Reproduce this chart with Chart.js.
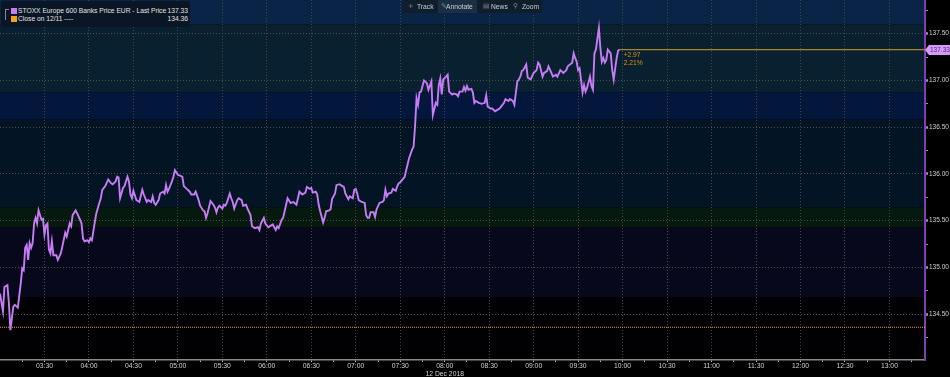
<!DOCTYPE html>
<html>
<head>
<meta charset="utf-8">
<script src="https://cdn.jsdelivr.net/npm/chart.js@4.4.0/dist/chart.umd.min.js"></script>
<style>
  html, body { margin: 0; padding: 0; background: #000; }
  #wrap { position: relative; width: 950px; height: 377px; overflow: hidden; }
  #chart { display: block; }
  #legend {
    position: absolute; left: 1px; top: 1px; width: 189px; height: 26px;
    background: #0a1626; border-radius: 3px;
    font: 6.7px "Liberation Sans", Arial, sans-serif; color: #e4e4e4;
  }
  #legend .row { position: absolute; left: 17px; right: 2px; height: 8px; line-height: 8px; white-space: nowrap; }
  #legend .val { position: absolute; right: 0; top: 0; }
  #legend .sw { position: absolute; left: 10px; width: 6px; height: 6px; }
  #legend .tree { position: absolute; left: 4px; top: 8px; width: 3px; height: 10px; border-left: 1px solid #8a8a8a; border-top: 1px solid #8a8a8a; }
  #toolbar {
    position: absolute; left: 403px; top: 0; width: 139px; height: 13px;
    background: #101d2b; font: 6.7px "Liberation Sans", Arial, sans-serif; color: #c8d0d8;
  }
  #toolbar span { position: absolute; top: 0; height: 13px; line-height: 13px; white-space: nowrap; }
  #toolbar .on { background: #1c2f42; }
  #toolbar .ic { color: #7d8a98; font-family: "DejaVu Sans", sans-serif; }
</style>
</head>
<body>
<div id="wrap">
  <canvas id="chart" width="950" height="377"></canvas>
  <div id="legend">
    <div class="tree"></div>
    <div class="sw" id="sw1" style="top:7px;background:#c67cf4"></div>
    <div class="sw" id="sw2" style="top:14.5px;background:#f5a21b"></div>
    <div class="row" style="top:6px"><span id="name1"></span><span class="val" id="val1"></span></div>
    <div class="row" style="top:14px"><span id="name2"></span><span class="val" id="val2"></span></div>
  </div>
  <div id="toolbar">
    <span class="ic" style="left:5px">+</span><span style="left:14px">Track</span>
    <span class="on" style="left:35px;width:39px"></span>
    <span class="ic" style="left:38px">✎</span><span style="left:43px">Annotate</span>
    <span class="ic" style="left:80px">▤</span><span style="left:88px">News</span>
    <span class="ic" style="left:110px">⚲</span><span style="left:119px">Zoom</span>
  </div>
</div>
<script>
// intraday prices
const times = [
  '03:00','03:02','03:03','03:05','03:06','03:07','03:09','03:10','03:12','03:14','03:15','03:16','03:17','03:18','03:19','03:20',
  '03:21','03:22','03:23','03:24','03:25','03:26','03:28','03:29','03:30','03:31','03:32','03:33','03:34','03:35','03:36','03:38',
  '03:39','03:41','03:42','03:44','03:45','03:47','03:48','03:49','03:51','03:52','03:54','03:55','03:56','03:57','03:59','04:00',
  '04:01','04:02','04:04','04:05','04:07','04:08','04:09','04:11','04:13','04:15','04:16','04:18','04:19','04:20','04:21','04:23',
  '04:24','04:26','04:27','04:28','04:29','04:30','04:32','04:33','04:34','04:36','04:37','04:39','04:40','04:42','04:43','04:44',
  '04:45','04:47','04:48','04:50','04:51','04:52','04:53','04:54','04:56','04:57','04:58','05:00','05:03','05:04','05:06','05:08',
  '05:09','05:11','05:12','05:14','05:15','05:17','05:18','05:19','05:20','05:22','05:24','05:25','05:26','05:27','05:28','05:30',
  '05:31','05:32','05:33','05:35','05:36','05:37','05:38','05:40','05:41','05:43','05:44','05:46','05:47','05:49','05:50','05:52',
  '05:54','05:55','05:56','05:58','05:59','06:01','06:03','06:04','06:06','06:07','06:08','06:10','06:11','06:13','06:14','06:16',
  '06:18','06:20','06:22','06:24','06:26','06:27','06:29','06:30','06:31','06:33','06:34','06:35','06:36','06:38','06:39','06:40',
  '06:42','06:43','06:44','06:46','06:47','06:49','06:51','06:52','06:53','06:55','06:56','06:58','06:59','07:00','07:01','07:02',
  '07:04','07:06','07:07','07:08','07:09','07:10','07:12','07:13','07:14','07:16','07:18','07:19','07:20','07:21','07:22','07:24',
  '07:25','07:27','07:28','07:29','07:30','07:32','07:33','07:34','07:36','07:38','07:39','07:40','07:41','07:42','07:43','07:44',
  '07:46','07:48','07:49','07:51','07:52','07:54','07:55','07:56','07:57','07:58','07:59','08:01','08:02','08:03','08:05','08:06',
  '08:08','08:09','08:10','08:12','08:13','08:14','08:15','08:16','08:18','08:19','08:20','08:21','08:23','08:25','08:27','08:28',
  '08:29','08:31','08:32','08:34','08:36','08:37','08:38','08:40','08:41','08:43','08:44','08:46','08:47','08:48','08:49','08:50',
  '08:51','08:52','08:53','08:55','08:56','08:58','09:00','09:02','09:03','09:04','09:06','09:07','09:09','09:10','09:12','09:13',
  '09:15','09:16','09:18','09:20','09:22','09:23','09:26','09:27','09:28','09:29','09:30','09:31','09:33','09:34','09:35','09:36',
  '09:38','09:39','09:40','09:41','09:42','09:44','09:45','09:46','09:47','09:48','09:49','09:50','09:52','09:53','09:54','09:55',
  '09:56','09:57','09:58'
];
const prices = [
  134.72,134.53,134.79,134.81,134.62,134.33,134.58,134.60,134.57,134.83,134.99,134.97,135.21,135.24,135.08,135.26,
  135.21,135.26,135.47,135.53,135.47,135.61,135.51,135.52,135.35,135.45,135.47,135.19,135.15,135.28,135.13,135.13,
  135.08,135.15,135.22,135.37,135.33,135.47,135.44,135.56,135.61,135.58,135.51,135.47,135.31,135.28,135.29,135.27,
  135.31,135.29,135.49,135.58,135.69,135.74,135.83,135.87,135.94,135.90,135.89,135.92,135.97,135.96,135.74,135.85,
  135.87,135.97,135.92,135.78,135.74,135.82,135.72,135.71,135.70,135.83,135.78,135.70,135.72,135.70,135.76,135.69,
  135.67,135.72,135.79,135.81,135.79,135.88,135.81,135.84,135.92,135.97,136.04,135.99,135.97,135.87,135.84,135.81,
  135.78,135.78,135.81,135.72,135.66,135.61,135.60,135.53,135.58,135.71,135.67,135.64,135.59,135.64,135.66,135.63,
  135.67,135.66,135.69,135.79,135.74,135.70,135.63,135.72,135.74,135.72,135.66,135.67,135.63,135.56,135.44,135.42,
  135.43,135.40,135.47,135.53,135.47,135.43,135.45,135.46,135.40,135.44,135.42,135.51,135.53,135.67,135.74,135.69,
  135.70,135.67,135.81,135.78,135.80,135.86,135.84,135.85,135.80,135.81,135.78,135.67,135.60,135.48,135.53,135.60,
  135.61,135.62,135.73,135.79,135.88,135.89,135.87,135.86,135.79,135.73,135.76,135.74,135.83,135.84,135.79,135.72,
  135.70,135.69,135.56,135.53,135.53,135.59,135.59,135.54,135.62,135.69,135.70,135.72,135.83,135.76,135.79,135.80,
  135.84,135.82,135.87,135.90,135.91,135.95,135.97,136.04,136.17,136.26,136.29,136.51,136.81,136.74,136.87,136.88,
  137.00,136.97,136.90,136.99,136.63,136.76,136.74,136.95,137.02,136.85,137.01,137.04,137.06,136.88,136.85,136.86,
  136.85,136.83,136.88,136.88,136.93,136.89,136.94,136.90,136.91,136.87,136.76,136.78,136.76,136.75,136.76,136.84,
  136.72,136.70,136.70,136.67,136.69,136.70,136.72,136.76,136.80,136.78,136.80,136.78,136.74,136.87,136.99,137.01,
  137.04,137.10,137.11,137.17,137.03,137.01,137.08,137.11,137.19,137.17,137.04,137.08,137.10,137.15,137.08,137.04,
  137.06,137.04,137.11,137.08,137.11,137.15,137.19,137.29,137.24,137.20,137.11,137.13,136.87,136.95,136.88,136.92,
  137.04,136.94,136.90,137.29,137.33,137.56,137.35,137.20,137.24,137.19,137.22,137.33,137.29,137.11,137.01,137.13,
  137.24,137.32,137.33
];
const seriesName = 'STOXX Europe 600 Banks Price EUR - Last Price';
const closeName = 'Close on 12/11 ----';
const closePrice = 134.36;

const xStart = '03:00';
const xEnd = '13:24';
const xTickLabels = ['03:30','04:00','04:30','05:00','05:30','06:00','06:30','07:00','07:30','08:00',
  '08:30','09:00','09:30','10:00','10:30','11:00','11:30','12:00','12:30','13:00'];
const dateTick = '08:00';
const dateText = '12 Dec 2018';

const yMin = 134.01;
const yMax = 137.86;
const yTickLabels = ['134.50','135.00','135.50','136.00','136.50','137.00','137.50'];

// shaded price bands behind the line (top to bottom)
const bandEdges = [137.60, 136.87, 136.58, 135.64, 135.43, 134.68];
const bandColors = ['#0a2448', '#08202f', '#03173d', '#031425', '#05190f', '#08081c', '#010104'];

function toMin(s) {
  const p = s.split(':').map(Number);
  return p[0] * 60 + p[1];
}
function pad(n) { return (n < 10 ? '0' : '') + n; }
function fmt(v) { return pad(Math.floor(v / 60)) + ':' + pad(Math.round(v % 60)); }

const lastPrice = prices[prices.length - 1];
const lastTime = toMin(times[times.length - 1]);

document.getElementById('name1').textContent = seriesName;
document.getElementById('val1').textContent = lastPrice.toFixed(2);
document.getElementById('name2').textContent = closeName;
document.getElementById('val2').textContent = closePrice.toFixed(2);

const xMajor = xTickLabels.map(toMin);
const xTicks = xMajor.concat(xMajor.map(v => v - 15), [xMajor[xMajor.length - 1] + 15]).sort((a, b) => a - b);
const yMajor = yTickLabels.map(Number);
const yTicks = yMajor.concat(yMajor.map(v => v - 0.25), [yMajor[yMajor.length - 1] + 0.25]).sort((a, b) => a - b);

const isXMajor = v => xMajor.includes(v);
const isYMajor = v => yTickLabels.includes(v.toFixed(2));

const bandsPlugin = {
  id: 'bands',
  beforeDraw(chart) {
    const { ctx, chartArea: a, scales: { y } } = chart;
    const edges = [a.top].concat(bandEdges.map(v => y.getPixelForValue(v)), [a.bottom]);
    ctx.save();
    bandColors.forEach((c, i) => {
      ctx.fillStyle = c;
      ctx.fillRect(a.left, edges[i], a.right - a.left, edges[i + 1] - edges[i]);
    });
    ctx.restore();
  }
};

const lastTagPlugin = {
  id: 'lastTag',
  afterDraw(chart) {
    const { ctx, chartArea: a, scales: { x, y } } = chart;
    const py = Math.round(y.getPixelForValue(lastPrice));
    const x0 = a.right;
    ctx.save();
    ctx.fillStyle = '#d49cf6';
    ctx.beginPath();
    ctx.moveTo(x0, py);
    ctx.lineTo(x0 + 4, py - 5);
    ctx.lineTo(x0 + 25, py - 5);
    ctx.lineTo(x0 + 25, py + 5);
    ctx.lineTo(x0 + 4, py + 5);
    ctx.closePath();
    ctx.fill();
    ctx.font = '6.5px "Liberation Sans", Arial, sans-serif';
    ctx.textBaseline = 'middle';
    ctx.textAlign = 'left';
    ctx.fillStyle = '#5e2080';
    ctx.fillText(lastPrice.toFixed(2), x0 + 5, py + 0.5);

    // change vs previous close, next to the last point
    const px = x.getPixelForValue(lastTime);
    const chg = lastPrice - closePrice;
    ctx.font = '6.7px "Liberation Sans", Arial, sans-serif';
    ctx.fillStyle = '#e0921c';
    ctx.fillText((chg >= 0 ? '+' : '') + chg.toFixed(2), px + 4, py + 5);
    ctx.fillText((chg / closePrice * 100).toFixed(2) + '%', px + 4, py + 13);
    ctx.restore();
  }
};

Chart.defaults.font.family = '"Liberation Sans", Arial, sans-serif';
Chart.defaults.font.size = 6.8;

new Chart(document.getElementById('chart'), {
  type: 'line',
  data: {
    datasets: [{
      label: seriesName,
      data: times.map((t, i) => ({ x: toMin(t), y: prices[i] })),
      borderColor: '#c67cf4',
      borderWidth: 1.9,
      pointRadius: 0,
      tension: 0
    }, {
      label: 'Last price',
      data: [{ x: lastTime, y: lastPrice }, { x: toMin(xEnd), y: lastPrice }],
      borderColor: '#a8852c',
      backgroundColor: '#a8852c',
      borderWidth: 1.2,
      pointRadius: 0
    }, {
      label: closeName,
      data: [{ x: toMin(xStart), y: closePrice }, { x: toMin(xEnd), y: closePrice }],
      borderColor: '#e8a010',
      borderWidth: 1,
      borderDash: [1, 1],
      pointRadius: 0
    }]
  },
  options: {
    responsive: false,
    animation: false,
    devicePixelRatio: 1,
    layout: { padding: 0 },
    plugins: {
      legend: { display: false },
      tooltip: { enabled: false }
    },
    scales: {
      x: {
        type: 'linear',
        min: toMin(xStart),
        max: toMin(xEnd),
        afterBuildTicks: axis => { axis.ticks = xTicks.map(v => ({ value: v })); },
        afterFit: axis => { axis.height = 17; axis.paddingLeft = 0; axis.paddingRight = 0; },
        ticks: {
          autoSkip: false,
          maxRotation: 0,
          padding: 0,
          color: '#d0d0d0',
          font: { size: 6.8, lineHeight: 1.2 },
          callback: v => {
            if (!isXMajor(v)) return '';
            const s = fmt(v);
            return s === dateTick ? [s, dateText] : s;
          }
        },
        grid: {
          color: c => (c.tick && isXMajor(c.tick.value)) ? '#474747' : 'rgba(0,0,0,0)',
          lineWidth: 1,
          tickLength: 2,
          tickColor: '#b8b8b8'
        },
        border: { color: '#8a8a8a', width: 1.5, dash: [1, 2] }
      },
      y: {
        position: 'right',
        min: yMin,
        max: yMax,
        afterBuildTicks: axis => { axis.ticks = yTicks.map(v => ({ value: v })); },
        afterFit: axis => { axis.width = 25; axis.paddingTop = 0; axis.paddingBottom = 0; },
        ticks: {
          padding: 1,
          color: '#d0d0d0',
          font: { size: 6.5 },
          callback: v => isYMajor(v) ? v.toFixed(2) : ''
        },
        grid: {
          color: c => (c.tick && isYMajor(c.tick.value)) ? '#4f4f4f' : 'rgba(0,0,0,0)',
          lineWidth: 1,
          tickLength: 3,
          tickColor: '#c070f0',
          tickWidth: c => (c.tick && isYMajor(c.tick.value)) ? 2.5 : 1
        },
        border: { color: '#7b3fb0', width: 2, dash: [1, 2] }
      }
    }
  },
  plugins: [bandsPlugin, lastTagPlugin]
});
</script>
</body>
</html>
